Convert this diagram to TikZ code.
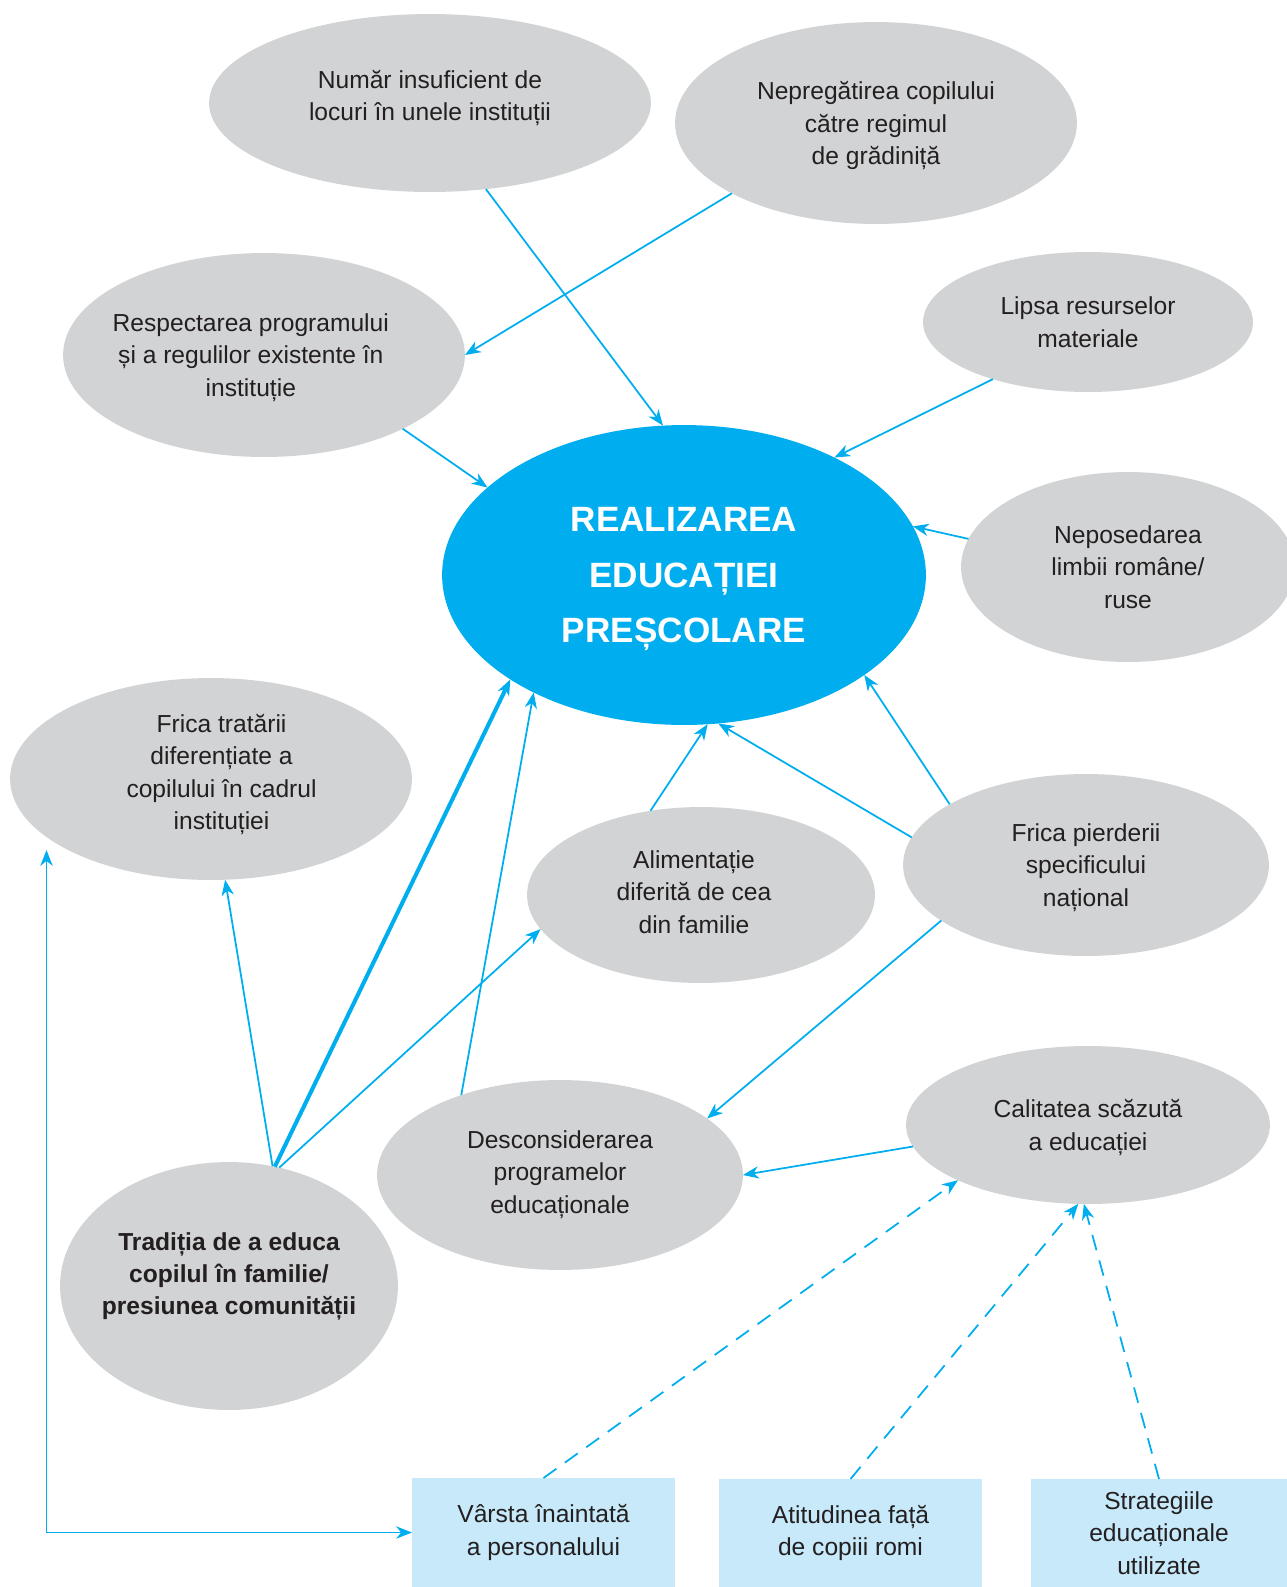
\documentclass[tikz,border=0pt]{standalone}
\usepackage{fontspec}
\setmainfont{Liberation Sans}
\usetikzlibrary{shapes.geometric,arrows.meta}

\definecolor{coreblue}{RGB}{0,174,239}
\definecolor{bubblegrey}{RGB}{209,211,212}
\definecolor{boxblue}{RGB}{199,233,249}
\definecolor{inkdark}{RGB}{35,31,32}

\begin{document}
\begin{tikzpicture}%
  [x=0.02cm,y=-0.02cm,
   >={Stealth[length=9pt,width=7pt,inset=2.8pt]},
   bubble/.style=
    {ellipse,fill=bubblegrey,inner xsep=-12pt,inner ysep=0pt,outer sep=0pt,
     text depth=0pt,align=center,text=inkdark,font=\fontsize{14}{18.4}\selectfont},
   rad/.style 2 args=
    {minimum width=#1*0.04cm,minimum height=#2*0.04cm},
   core/.style=
    {ellipse,fill=coreblue,inner xsep=-12pt,inner ysep=0pt,outer sep=0pt,
     text depth=0pt,align=center,text=white,font=\fontsize{20}{31.5}\selectfont\bfseries},
   factor/.style=
    {rectangle,fill=boxblue,inner sep=0pt,outer sep=0pt,align=center,
     text=inkdark,font=\fontsize{14}{18.4}\selectfont},
   flow/.style={->,draw=coreblue,line width=1pt},
   hint/.style={->,draw=coreblue,line width=1pt,dash pattern=on 9pt off 6pt}
  ]
  \useasboundingbox (0,0) rectangle (1287,1587);

  \node[core,rad={242}{150}] (C) at (684,575) {REALIZAREA\\EDUCAȚIEI\\PREȘCOLARE};

  \node[bubble,rad={221}{89},text depth=9pt] (E1) at (430,103) {Număr insuficient de\\locuri în unele instituții};
  \node[bubble,rad={201}{101}] (E2) at (876,123) {Nepregătirea copilului\\către regimul\\de grădiniță};
  \node[bubble,rad={201}{102}] (E3) at (264,355)
    {Respectarea programului\kern15pt\\și a regulilor existente în\kern15pt\\instituție\kern15pt};
  \node[bubble,rad={165}{70}] (E4) at (1088,322) {Lipsa resurselor\\materiale};
  \node[bubble,rad={167}{95}] (E5) at (1128,567) {Neposedarea\\limbii române/\\ruse};
  \node[bubble,rad={201}{101},text depth=8pt] (E6) at (211,779)
    {\kern12pt Frica tratării\\\kern12pt diferențiate a\\\kern12pt copilului în cadrul\\\kern12pt instituției};
  \node[bubble,rad={174}{88},text depth=3.5pt] (E7) at (701,895)
    {Alimentație\kern8pt\\diferită de cea\kern8pt\\din familie\kern8pt};
  \node[bubble,rad={183}{91}] (E8) at (1086,865) {Frica pierderii\\specificului\\național};
  \node[bubble,rad={182}{79}] (E9) at (1088,1125) {Calitatea scăzută\\a educației};
  \node[bubble,rad={183}{95},text depth=3.5pt] (E10) at (560,1175) {Desconsiderarea\\programelor\\educaționale};
  \node[bubble,rad={169}{124},text depth=14pt,font=\fontsize{14}{18.4}\selectfont\bfseries] (E11) at (229,1286)
    {Tradiția de a educa\\copilul în familie/\\presiunea comunității};

  \node[factor,minimum width=263*0.02cm,minimum height=109*0.02cm] (B1) at (543.5,1532.5)
    {Vârsta înaintată\\a personalului};
  \node[factor,minimum width=263*0.02cm,minimum height=108*0.02cm] (B2) at (850.5,1533)
    {Atitudinea față\\de copiii romi};
  \node[factor,minimum width=256*0.02cm,minimum height=108*0.02cm] (B3) at (1159,1533)
    {Strategiile\\educaționale\\utilizate};

  % arrows into the centre
  \draw[flow] (E1.-57) -- (C.98.7);
  \draw[flow] (E2.-154.2) -- (E3.0);
  \draw[flow] (E3.-28.2) -- (C.156.4);
  \draw[flow] (E4.-149.9) -- (C.38.8);
  \draw[flow] (E5.170.4) -- (C.12.6);
  \draw[flow] (E8.156.9) -- (C.-29.7);
  \draw[flow] (E8.171.2) -- (C.-77.9);
  \draw[flow] (E7.121.7) -- (C.-81.3);
  \draw[flow] (E8.-159.2) -- (E10.21.1);
  \draw[flow] (E9.-173.8) -- (E10.0);
  \draw[flow] (E11.70.1) -- (E6.-82.1);
  \draw[flow,line width=2.3pt] (E11.69.3) -- (C.-149.5);
  \draw[flow] (E11.67.9) -- (E7.-168.6);
  \draw[flow] (E10.141.3) -- (C.-142);

  \coordinate (lift) at (46.5,850);
  \draw[flow,<->] (lift) |- (B1.west);

  % dashed links from the boxes
  \draw[hint] (B1.north) -- (E9.-157.7);
  \draw[hint] (B2.north) -- (E9.-97.3);
  \draw[hint] (B3.north) -- (E9.-93.8);

\end{tikzpicture}
\end{document}
